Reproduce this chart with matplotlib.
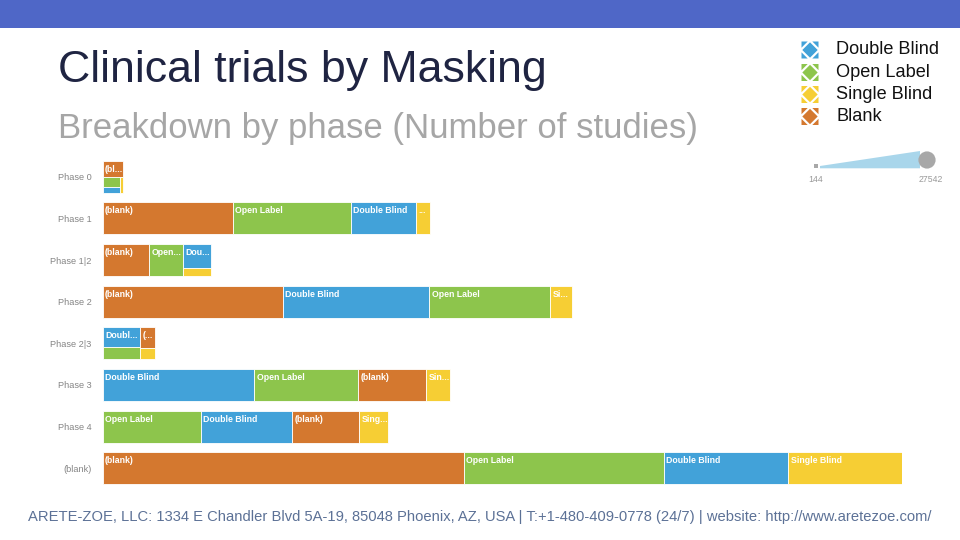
import matplotlib
matplotlib.use('Agg')
import matplotlib.pyplot as plt
from matplotlib.patches import Rectangle, Polygon, Circle
from matplotlib.font_manager import FontProperties

plt.rcParams['font.family'] = ['Liberation Sans', 'DejaVu Sans']

# ---------------- data ----------------
phases = ['Phase 0', 'Phase 1', 'Phase 1|2', 'Phase 2', 'Phase 2|3', 'Phase 3', 'Phase 4', '(blank)']
double_blind = [250, 4960, 1570, 11190, 1750, 11570, 6990, 9480]
open_label = [375, 9000, 2620, 9230, 1140, 7930, 7480, 15260]
single_blind = [144, 1110, 570, 1660, 410, 1790, 2210, 8640]
blank = [830, 9920, 3530, 13730, 730, 5170, 5110, 27542]
series_names = ['Double Blind', 'Open Label', 'Single Blind', '(blank)']
legend_labels = ['Double Blind', 'Open Label', 'Single Blind', 'Blank']

colors = {'Double Blind': '#42A2D9', 'Open Label': '#8DC54C',
          'Single Blind': '#F6CE34', '(blank)': '#D4782F'}

title = 'Clinical trials by Masking'
subtitle = 'Breakdown by phase (Number of studies)'
footer = ('ARETE-ZOE, LLC: 1334 E Chandler Blvd 5A-19, 85048 Phoenix, AZ, USA | '
          'T:+1-480-409-0778 (24/7) | website: http://www.aretezoe.com/')

series = [double_blind, open_label, single_blind, blank]

# ---------------- figure ----------------
W, H = 960, 540
fig = plt.figure(figsize=(W / 100, H / 100), dpi=100)
fig.patch.set_facecolor('white')

ax_left, ax_right = 102.5, 901.5
ax_top, ax_bot = 156, 489
ax = fig.add_axes([ax_left / W, 1 - ax_bot / H, (ax_right - ax_left) / W, (ax_bot - ax_top) / H])
totals = [sum(s[i] for s in series) for i in range(len(phases))]
ax.set_xlim(0, max(totals))
ax.set_ylim(len(phases) - 0.5, -0.5)
for sp in ax.spines.values():
    sp.set_visible(False)
ax.set_xticks([])
ax.set_yticks(range(len(phases)))
ax.set_yticklabels(phases, fontsize=6.6, color='#858585')
ax.tick_params(axis='y', length=0, pad=8)

BAR_H = 0.77
renderer = fig.canvas.get_renderer()
p0 = ax.transData.transform((0, 0))
p1 = ax.transData.transform((1, 1))
ppx = p1[0] - p0[0]           # pixels per value unit
ppy = abs(p1[1] - p0[1])      # pixels per row unit

TOL = 2.3


def worst(areas, side):
    s = sum(areas)
    thick = s / side
    r = 0
    for a in areas:
        l = a / thick
        r = max(r, thick / l, l / thick)
    return r


def layout(items, x, y, w, h):
    rects = []
    items = list(items)
    while items:
        vertical = w >= h
        side = h if vertical else w
        row = [items[0]]
        i = 1
        while i < len(items):
            cand = row + [items[i]]
            if worst([a for _, a in cand], side) <= TOL * worst([a for _, a in row], side):
                row = cand
                i += 1
            else:
                break
        items = items[len(row):]
        s = sum(a for _, a in row)
        thick = s / side
        off = 0
        for name, a in row:
            l = a / thick
            if vertical:
                rects.append((name, x, y + off, thick, l))
            else:
                rects.append((name, x + off, y, l, thick))
            off += l
        if vertical:
            x += thick
            w -= thick
        else:
            y += thick
            h -= thick
    return rects


LABEL_FS = 6.3
lab_prop = FontProperties(family=['Liberation Sans', 'DejaVu Sans'], weight='bold', size=LABEL_FS)


def text_w(s):
    w, h, d = renderer.get_text_width_height_descent(s, lab_prop, ismath=False)
    return w


def fit_label(s, avail):
    if text_w(s) <= avail:
        return s
    for k in range(len(s) - 1, -1, -1):
        t = s[:k].rstrip() + '...'
        if text_w(t) <= avail:
            return t
    return ''


bar_px = BAR_H * ppy
for r, ph in enumerate(phases):
    items = [(series_names[j], series[j][r] * ppx * bar_px) for j in range(4)]
    items.sort(key=lambda t: -t[1])
    width_px = totals[r] * ppx
    rects = layout(items, 0.0, 0.0, width_px, bar_px)
    top = r - BAR_H / 2
    for name, x, y, w, h in rects:
        xd, yd = x / ppx, top + y / ppy
        wd, hd = w / ppx, h / ppy
        ax.add_patch(Rectangle((xd, yd), wd, hd, facecolor=colors[name],
                               edgecolor='white', linewidth=0.6))
        if h >= 14:
            lab = fit_label(name, w - 1.6)
            if lab:
                ax.text(xd + 2.4 / ppx, yd + 4.0 / ppy, lab, fontproperties=lab_prop,
                        color='white', ha='left', va='top')

# ---------------- overlay (pixel coords) ----------------
ov = fig.add_axes([0, 0, 1, 1], zorder=-1)
ov.set_xlim(0, W)
ov.set_ylim(H, 0)
ov.axis('off')
ov.add_patch(Rectangle((0, 0), W, 28, facecolor='#4F67C7', edgecolor='none'))

fig.text(58 / W, 1 - 82 / H, title, fontsize=32.2, color='#1F2442', ha='left', va='baseline')
fig.text(58 / W, 1 - 138 / H, subtitle, fontsize=25.0, color='#A6A6A6', ha='left', va='baseline')
fig.text(480 / W, 1 - 521 / H, footer, fontsize=10.6, color='#5C7196', ha='center', va='baseline')

# color legend
leg = fig.add_axes([0, 0, 1, 1])
leg.set_xlim(0, W)
leg.set_ylim(H, 0)
leg.axis('off')
leg_y = [50, 72.5, 94.5, 116.5]
for lab, name, yc in zip(legend_labels, series_names, leg_y):
    xc, s = 810, 8.5
    c = colors[name]
    d = s - 0.8
    leg.add_patch(Polygon([(xc - d, yc), (xc, yc - d), (xc + d, yc), (xc, yc + d)],
                          closed=True, facecolor=c, edgecolor='none'))
    a = s - 2.3
    for sx in (-1, 1):
        for sy in (-1, 1):
            cx, cy = xc + sx * s, yc + sy * s
            leg.add_patch(Polygon([(cx, cy), (cx - sx * a, cy), (cx, cy - sy * a)],
                                  closed=True, facecolor=c, edgecolor='none'))
    leg.text(836, yc, lab, fontsize=13.1, color='#111111', ha='left', va='center')

# size legend
all_vals = [v for s in series for v in s]
vmin, vmax = min(all_vals), max(all_vals)
leg.add_patch(Rectangle((814, 164), 4, 4, facecolor='#A8A8A8', edgecolor='none'))
leg.add_patch(Polygon([(820, 168.3), (920, 168.3), (920, 151), (820, 166)], closed=True,
                      facecolor='#A9D6EB', edgecolor='none'))
leg.add_patch(Circle((927, 160), 8.6, facecolor='#A8A8A8', edgecolor='none'))
leg.text(816, 179, f'{vmin}', fontsize=6.3, color='#9a9a9a', ha='center', va='center')
leg.text(931, 179, f'{vmax}', fontsize=6.3, color='#9a9a9a', ha='center', va='center')

fig.savefig('out.png', dpi=100, facecolor='white')
